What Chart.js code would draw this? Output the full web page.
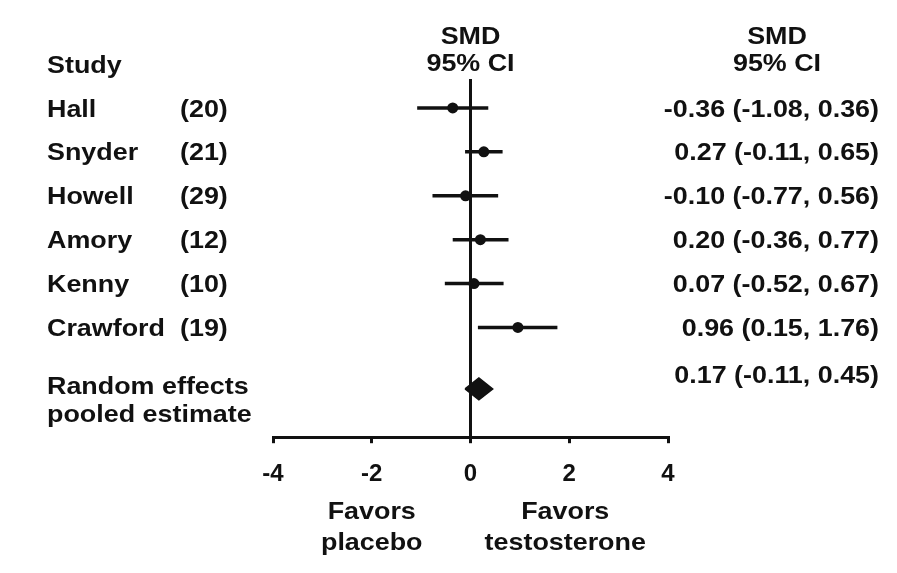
<!DOCTYPE html>
<html>
<head>
<meta charset="utf-8">
<script src="https://cdn.jsdelivr.net/npm/chart.js@4.4.1/dist/chart.umd.min.js"></script>
<style>
  html, body { margin: 0; padding: 0; background: #fff; }
  #wrap { width: 897px; height: 573px; position: relative; }
</style>
</head>
<body>
<div id="wrap"><canvas id="c"></canvas></div>
<script>
// ---- data ----
const studies   = ['Hall', 'Snyder', 'Howell', 'Amory', 'Kenny', 'Crawford'];
const counts    = ['(20)', '(21)', '(29)', '(12)', '(10)', '(19)'];
const smd       = [-0.36, 0.27, -0.10, 0.20, 0.07, 0.96];
const ciLow     = [-1.08, -0.11, -0.77, -0.36, -0.52, 0.15];
const ciHigh    = [0.36, 0.65, 0.56, 0.77, 0.67, 1.76];
const pooledSMD = 0.17;
const pooledLow = -0.11;
const pooledHigh = 0.45;
const xTicks    = [-4, -2, 0, 2, 4];
const pooledLabel = ['Random effects', 'pooled estimate'];
const favorLabels = [['Favors', 'placebo'], ['Favors', 'testosterone']];
const headerStudy = 'Study';
const headerSMD = ['SMD', '95% CI'];

// ---- layout constants (not data) ----
const POOLED_ROW = 7.4;
const DIAMOND_HALF = 0.25;
const FONT = 'bold 24px "Liberation Sans", Arial, Helvetica, sans-serif';
const SX = 1.12;   // horizontal stretch of the lettering in the reference
const INK = '#111';

const fmt = v => v.toFixed(2);

const datasets = [];
studies.forEach((s, i) => {
  datasets.push({
    label: s + ' CI',
    data: [{x: ciLow[i], y: i + 1}, {x: ciHigh[i], y: i + 1}],
    showLine: true, borderColor: INK, borderWidth: 3.5,
    pointRadius: 0, pointHoverRadius: 0
  });
});
datasets.push({
  label: 'SMD',
  data: smd.map((v, i) => ({x: v, y: i + 1})),
  showLine: false, pointRadius: 5.5, pointHoverRadius: 5.5,
  pointBackgroundColor: INK, pointBorderColor: INK, pointBorderWidth: 0
});
datasets.push({
  label: 'Pooled',
  data: [
    {x: pooledLow, y: POOLED_ROW},
    {x: pooledSMD, y: POOLED_ROW - DIAMOND_HALF},
    {x: pooledHigh, y: POOLED_ROW},
    {x: pooledSMD, y: POOLED_ROW + DIAMOND_HALF},
    {x: pooledLow, y: POOLED_ROW}
  ],
  showLine: true, fill: 'shape', backgroundColor: INK, borderColor: INK,
  borderWidth: 1.5, pointRadius: 0, tension: 0
});

function txt(ctx, s, x, yCenter, align) {
  ctx.save();
  ctx.translate(x, yCenter + 8.6);
  ctx.scale(SX, 1);
  ctx.textAlign = align;
  ctx.textBaseline = 'alphabetic';
  ctx.fillText(s, 0, 0);
  ctx.restore();
}

const textPlugin = {
  id: 'forestText',
  afterDraw(chart) {
    const ctx = chart.ctx;
    const xs = chart.scales.x, ys = chart.scales.y;
    ctx.save();
    ctx.font = FONT;
    ctx.fillStyle = INK;
    const nameX = 47, countX = 180, valX = 879, hdrRX = 777;
    // headers
    txt(ctx, headerStudy, nameX, ys.getPixelForValue(0), 'left');
    txt(ctx, headerSMD[0], xs.getPixelForValue(0), 35, 'center');
    txt(ctx, headerSMD[1], xs.getPixelForValue(0), 62, 'center');
    txt(ctx, headerSMD[0], hdrRX, 35, 'center');
    txt(ctx, headerSMD[1], hdrRX, 62, 'center');
    // study rows
    studies.forEach((s, i) => {
      const y = ys.getPixelForValue(i + 1);
      txt(ctx, s, nameX, y, 'left');
      txt(ctx, counts[i], countX, y, 'left');
      txt(ctx, `${fmt(smd[i])} (${fmt(ciLow[i])}, ${fmt(ciHigh[i])})`, valX, y, 'right');
    });
    // pooled row
    const py = ys.getPixelForValue(POOLED_ROW);
    txt(ctx, pooledLabel[0], nameX, py - 4, 'left');
    txt(ctx, pooledLabel[1], nameX, py + 24, 'left');
    txt(ctx, `${fmt(pooledSMD)} (${fmt(pooledLow)}, ${fmt(pooledHigh)})`, valX, py - 15, 'right');
    // favors labels
    const fl = xs.getPixelForValue(-2), fr = xs.getPixelForValue(2) - 4;
    txt(ctx, favorLabels[0][0], fl, 510, 'center');
    txt(ctx, favorLabels[0][1], fl, 541, 'center');
    txt(ctx, favorLabels[1][0], fr, 510, 'center');
    txt(ctx, favorLabels[1][1], fr, 541, 'center');
    ctx.restore();
  }
};

new Chart(document.getElementById('c'), {
  type: 'scatter',
  data: { datasets },
  options: {
    responsive: true,
    maintainAspectRatio: false,
    animation: false,
    events: [],
    layout: { padding: { left: 273, right: 229, top: 79, bottom: 67 } },
    plugins: { legend: { display: false }, tooltip: { enabled: false } },
    scales: {
      x: {
        type: 'linear', min: -4, max: 4,
        afterBuildTicks: (scale) => { scale.ticks = xTicks.map(v => ({value: v})); },
        ticks: {
          color: INK, padding: 17,
          font: { family: '"Liberation Sans", Arial, Helvetica, sans-serif', size: 24, weight: 'bold' },
          callback: v => String(v)
        },
        grid: {
          drawOnChartArea: true,
          color: c => (c.tick && c.tick.value === 0) ? INK : 'rgba(0,0,0,0)',
          tickColor: INK, lineWidth: 3, tickWidth: 3, tickLength: 6
        },
        border: { display: true, color: INK, width: 3 }
      },
      y: {
        type: 'linear', reverse: true, min: 0.34, max: 8.5, display: false
      }
    }
  },
  plugins: [textPlugin]
});
</script>
</body>
</html>
